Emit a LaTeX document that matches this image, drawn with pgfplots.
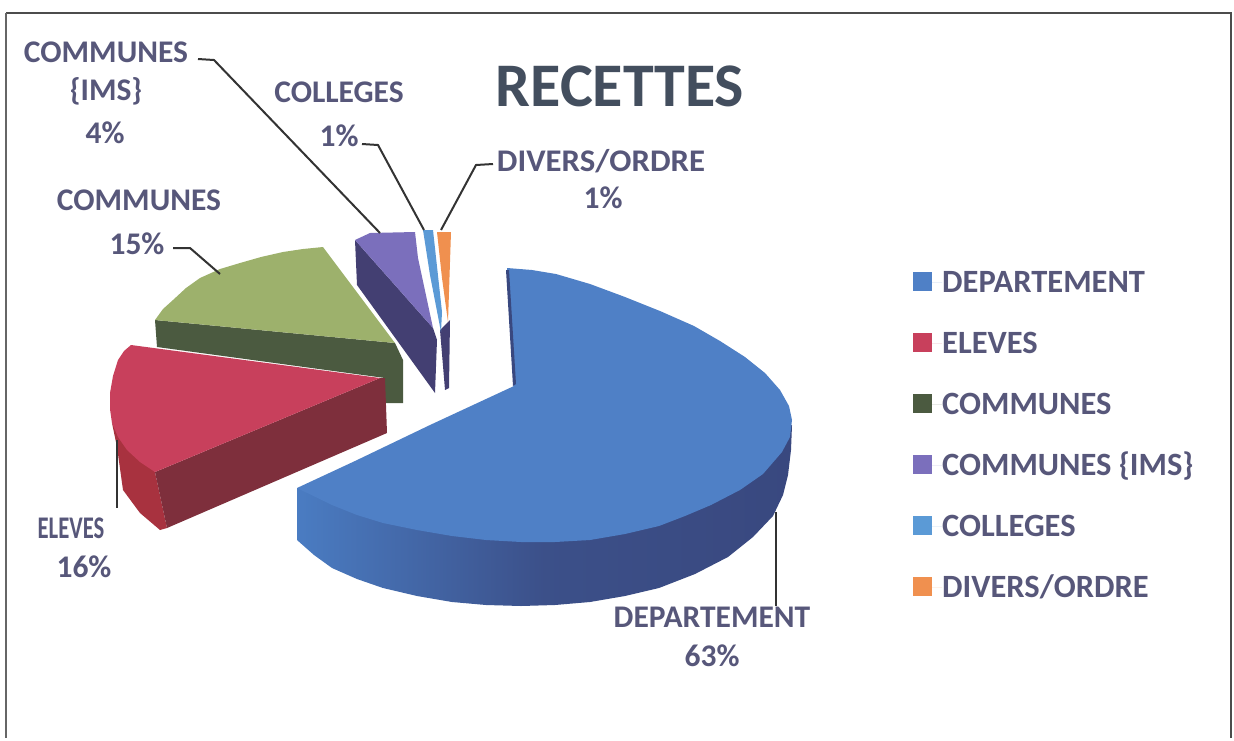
\documentclass[border=0pt]{standalone}
\usepackage{fontspec}
\setmainfont{Carlito}
\usepackage{pgfplots}
\pgfplotsset{compat=1.18}
\definecolor{depTop}{HTML}{4F80C6}
\definecolor{depSideA}{HTML}{4A7CC2}
\definecolor{depSideB}{HTML}{39487F}
\definecolor{elvTop}{HTML}{C8405C}
\definecolor{elvSide}{HTML}{7E2F3C}
\definecolor{elvOut}{HTML}{A8323F}
\definecolor{comTop}{HTML}{9DB16C}
\definecolor{comSide}{HTML}{4B5A40}
\definecolor{imsTop}{HTML}{7B6FBC}
\definecolor{imsSide}{HTML}{433F72}
\definecolor{colTop}{HTML}{5B9AD6}
\definecolor{divTop}{HTML}{F0904F}
\definecolor{txt}{HTML}{57577A}
\definecolor{ttl}{HTML}{434E5E}
\pgfplotsset{
  slice/.style={forget plot, draw=none, mark=none, fill=#1},
  leader/.style={forget plot, draw=black!80, line width=2pt, mark=none},
  frame/.style={forget plot, draw=#1, line width=2.2pt, mark=none},
  legend image code/.code={\fill[draw=none,#1] (0pt,-9pt) rectangle (19pt,10pt);\path[draw=none] (0pt,0pt) -- (29pt,0pt);},
}
\tikzset{lab/.style={font=\fontsize{31.5}{34}\selectfont\bfseries, text=txt, inner sep=0pt}}
\begin{document}
\begin{tikzpicture}
\begin{axis}[
  scale only axis, width=1234pt, height=740pt,
  xmin=0, xmax=1234, ymin=0, ymax=740, y dir=reverse,
  hide axis, clip=false,
  legend cell align=left,
  legend style={at={(axis cs:913,272)}, anchor=north west, draw=none, fill=none,
    font=\fontsize{32.5}{34}\selectfont\bfseries, text=txt, row sep=41pt, inner sep=0pt,
    nodes={inner sep=0pt, text height=20pt, text depth=0pt}},
]
% page extent
\addplot[forget plot, draw=none, mark=none] coordinates {(0,0) (1234,740)};

% frame
\addplot[frame=black!70] coordinates {(6,13) (1231,13) (1231,738)};
\addplot[frame=black!60] coordinates {(6,13) (6,738)};

% communes, green
\addplot[slice=comSide] coordinates {(155,320) (395,343) (403,360) (403,403) (385,403) (385,378) (157,347)} --cycle;
\addplot[slice=comTop] coordinates {(155,320) (163,309) (173,300) (186,288) (200,278) (220,269) (240,263) (261,257) (283,252) (303,249) (323,247) (395,343)} --cycle;

% eleves, red
\addplot[slice=elvOut] coordinates {(112,423) (117,447) (123,490) (140,513) (160,530) (167,528) (155,472)} --cycle;
\addplot[slice=elvSide] coordinates {(155,472) (380,378) (385,378) (387,433) (167,528)} --cycle;
\addplot[slice=elvTop] coordinates {(131,345) (124,351) (118,360) (113,376) (110,393) (110,409) (112,423) (118,437) (127,450) (140,462) (155,472) (380,378)} --cycle;

% communes (ims), purple
\addplot[slice=imsSide] coordinates {(355,240) (357,285) (435,393) (437,340) (433,328)} --cycle;
\addplot[slice=imsTop] coordinates {(355,240) (370,233) (415,232) (418,258) (433,328)} --cycle;

% colleges and divers/ordre
\addplot[slice=imsSide] coordinates {(440,330) (450,320) (449,388) (445,390)} --cycle;
\addplot[slice=colTop] coordinates {(423,230) (433,230) (442,312) (441,332) (430,275)} --cycle;
\addplot[slice=divTop] coordinates {(437,232) (451,232) (448,322) (442,278)} --cycle;

% departement, blue
\addplot[forget plot, draw=none, mark=none, left color=depSideA, right color=depSideB, middle color=depSideB!85!depSideA]
  coordinates {(297,488) (297,540) (314,555) (332,568) (357,579) (383,588) (417,596) (452,602) (486,605) (521,606)
    (555,605) (590,602) (625,596) (659,588) (695,574) (728,557) (753,537) (773,516) (783,495) (788,475) (791,450)
    (792,425) (745,440) (521,520)} --cycle;
\addplot[slice=depTop] coordinates {(507,268) (532,270) (556,274) (590,284) (625,297) (660,311) (694,326)
    (720,341) (745,357) (765,373) (780,390) (789,406) (792,420) (790,437) (782,452) (763,474) (740,490) (711,505)
    (685,516) (659,526) (625,534) (590,540) (555,542) (521,542) (486,540) (452,536) (417,530) (383,523)
    (357,515) (332,505) (297,488) (355,461) (430,425) (514,386)} --cycle;
\addplot[slice=depSideB] coordinates {(506,270) (509,270) (516,384) (513,386)} --cycle;

% leaders
\addplot[leader] coordinates {(198,59) (214,60) (380,233)};
\addplot[leader] coordinates {(362,144) (378,145) (424,230)};
\addplot[leader] coordinates {(493,164) (476,165) (441,230)};
\addplot[leader] coordinates {(173,248) (190,248) (220,274)};
\addplot[leader] coordinates {(117,440) (117,508)};
\addplot[leader] coordinates {(776,512) (776,606)};

% labels
\node[lab, font=\fontsize{62}{66}\selectfont\bfseries, text=ttl] at (axis cs:620,86) {RECETTES};
\node[lab] at (axis cs:106,52) {COMMUNES};
\node[lab] at (axis cs:106,91) {\{IMS\}};
\node[lab] at (axis cs:105,133) {4\%};
\node[lab] at (axis cs:339,92) {COLLEGES};
\node[lab] at (axis cs:339,136) {1\%};
\node[lab, xscale=1.04] at (axis cs:601,161) {DIVERS/ORDRE};
\node[lab] at (axis cs:603,198) {1\%};
\node[lab] at (axis cs:139,200) {COMMUNES};
\node[lab] at (axis cs:137,244) {15\%};
\node[lab, xscale=0.72] at (axis cs:71,528) {ELEVES};
\node[lab] at (axis cs:84,567) {16\%};
\node[lab] at (axis cs:712,617) {DEPARTEMENT};
\node[lab] at (axis cs:712,656) {63\%};

% legend
\addlegendimage{fill=depTop}\addlegendentry{DEPARTEMENT}
\addlegendimage{fill=elvTop}\addlegendentry{ELEVES}
\addlegendimage{fill=comSide}\addlegendentry{COMMUNES}
\addlegendimage{fill=imsTop}\addlegendentry{COMMUNES \{IMS\}}
\addlegendimage{fill=colTop}\addlegendentry{COLLEGES}
\addlegendimage{fill=divTop}\addlegendentry{DIVERS/ORDRE}
\end{axis}
\end{tikzpicture}
\end{document}
